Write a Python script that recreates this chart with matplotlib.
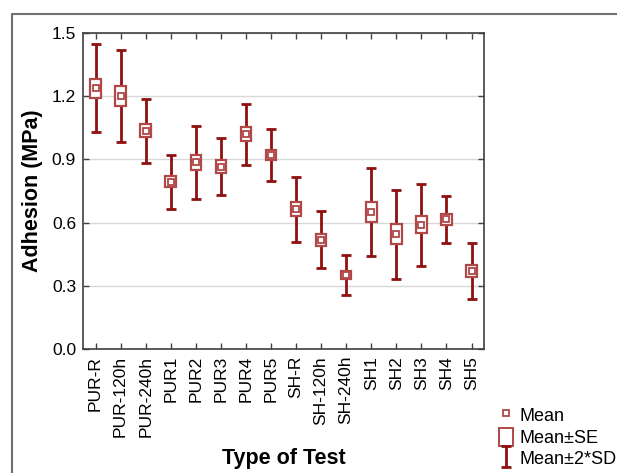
import matplotlib
matplotlib.use("Agg")
import matplotlib.pyplot as plt
from matplotlib.lines import Line2D
from matplotlib.patches import Patch
from matplotlib.legend_handler import HandlerErrorbar

# datos
tipos = ['PUR-R', 'PUR-120h', 'PUR-240h', 'PUR1', 'PUR2', 'PUR3', 'PUR4', 'PUR5',
         'SH-R', 'SH-120h', 'SH-240h', 'SH1', 'SH2', 'SH3', 'SH4', 'SH5']
media = [1.237, 1.200, 1.036, 0.794, 0.886, 0.866, 1.020, 0.921,
         0.663, 0.519, 0.350, 0.650, 0.545, 0.590, 0.615, 0.369]
error_se = [0.045, 0.048, 0.032, 0.025, 0.036, 0.030, 0.032, 0.024,
            0.034, 0.029, 0.020, 0.047, 0.047, 0.041, 0.025, 0.028]
dos_sd = [0.209, 0.219, 0.153, 0.128, 0.172, 0.137, 0.145, 0.123,
          0.155, 0.134, 0.096, 0.209, 0.212, 0.195, 0.113, 0.134]

rojo = '#8e1010'
rojo_claro = '#b04848'

plt.rcParams['font.family'] = ['Liberation Sans', 'DejaVu Sans']

fig = plt.figure(figsize=(6.17, 4.73), dpi=100)
ax = fig.add_axes([0.1345, 0.2622, 0.65, 0.668])

x = list(range(len(tipos)))

ax.grid(True, axis='y', color='#d8d8d8', lw=1, zorder=0)

barras = ax.errorbar(x, media, yerr=dos_sd, fmt='none', ecolor=rojo, elinewidth=2,
                     capsize=3.5, capthick=2, zorder=2)
ax.bar(x, [2 * s for s in error_se], bottom=[m - s for m, s in zip(media, error_se)],
       width=0.42, color='white', edgecolor=rojo_claro, linewidth=1.6, zorder=3)
ax.plot(x, media, 's', ms=4.5, mfc='white', mec=rojo_claro, mew=1.3, zorder=4)

ax.set_xlim(-0.5, len(tipos) - 0.5)
ax.set_ylim(0, 1.5)
ax.set_yticks([0.0, 0.3, 0.6, 0.9, 1.2, 1.5])
ax.set_yticklabels(['0.0', '0.3', '0.6', '0.9', '1.2', '1.5'])
ax.set_xticks(x)
ax.set_xticklabels(tipos, rotation=90)

ax.tick_params(axis='both', direction='in', length=4, width=1, color='#404040',
               labelsize=12.5, top=True, right=True, pad=5)
for lado in ax.spines.values():
    lado.set_color('#404040')
    lado.set_linewidth(1.2)

ax.set_xlabel('Type of Test', fontsize=15.5, fontweight='bold', labelpad=8)
ax.set_ylabel('Adhesion (MPa)', fontsize=15.5, fontweight='bold', labelpad=6)

# leyenda fuera del grafico
h_media = Line2D([], [], marker='s', ms=4.5, mfc='white', mec=rojo_claro, mew=1.3, ls='')
h_se = Patch(facecolor='white', edgecolor=rojo_claro, lw=1.4)
fig.legend([h_media, h_se, barras], ['Mean', 'Mean±SE', 'Mean±2*SD'],
           loc='upper left', bbox_to_anchor=(0.808, 0.142), frameon=False,
           fontsize=13, handlelength=0.8, handleheight=1.15, handletextpad=0.35,
           labelspacing=0.15, borderaxespad=0, borderpad=0,
           handler_map={barras: HandlerErrorbar(xerr_size=0.5, yerr_size=0.58)})

# marco exterior
yb = 1 - 14 / 473
xb = 12 / 617
fig.add_artist(Line2D([xb, xb, 1], [0, yb, yb], color='#707070', lw=1.5,
                      transform=fig.transFigure))

fig.savefig('out.png', dpi=100)
